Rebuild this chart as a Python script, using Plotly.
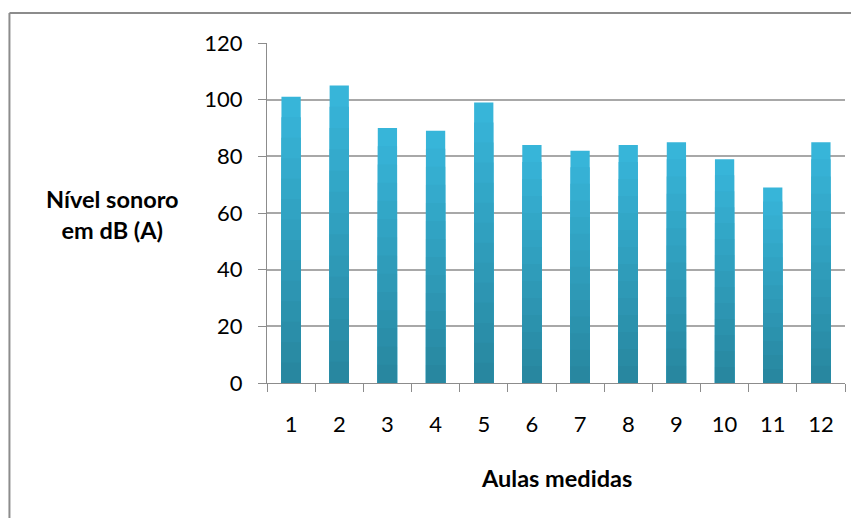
import plotly.graph_objects as go

categories = ["1", "2", "3", "4", "5", "6", "7", "8", "9", "10", "11", "12"]
values = [101, 105, 90, 89, 99, 84, 82, 84, 85, 79, 69, 85]
y_ticks = [0, 20, 40, 60, 80, 100, 120]
y_title = "Nível sonoro<br>em dB (A)"
x_title = "Aulas medidas"

top_rgb = (55, 181, 217)
bottom_rgb = (40, 135, 160)
n_layers = 14

fig = go.Figure()
# Vertical gradient imitation: overlaid copies of each bar, progressively shorter and darker
for k in range(n_layers):
    f = 1 - k / n_layers
    t = k / (n_layers - 1)
    c = tuple(round(top_rgb[i] + (bottom_rgb[i] - top_rgb[i]) * t) for i in range(3))
    fig.add_trace(go.Bar(
        x=categories,
        y=[v * f for v in values],
        marker=dict(color="rgb(%d,%d,%d)" % c, line=dict(width=0)),
        showlegend=False,
        hoverinfo="skip" if k else None,
    ))

fig.update_layout(
    width=851, height=510,
    margin=dict(l=259, r=14, t=35, b=135),
    paper_bgcolor="white", plot_bgcolor="white",
    barmode="overlay", bargap=0.6,
    font=dict(family="Lato, sans-serif", size=22, color="#000000"),
    showlegend=False,
)
fig.update_yaxes(
    range=[0, 120], tickvals=y_ticks,
    showgrid=True, gridcolor="#A8A8A8", gridwidth=1.5,
    showline=True, linecolor="#8C8C8C", linewidth=1,
    ticks="outside", ticklen=8, tickcolor="#8C8C8C",
    ticklabelstandoff=11, zeroline=False,
)
fig.update_xaxes(
    type="category", range=[-0.5, 11.5],
    showline=True, linecolor="#8C8C8C", linewidth=1,
    ticks="outside", ticklen=8, tickcolor="#8C8C8C", tickson="boundaries",
    ticklabelstandoff=22, showgrid=False,
)
fig.add_annotation(text="<b>" + y_title + "</b>", xref="paper", yref="paper",
                   x=-0.2675, y=0.497, xanchor="center", yanchor="middle",
                   showarrow=False, align="center",
                   font=dict(size=23.5))
fig.add_annotation(text="<b>" + x_title + "</b>", xref="paper", yref="paper",
                   x=0.5, y=-0.279, xanchor="center", yanchor="middle",
                   showarrow=False, font=dict(size=23.5))
# outer frame (top and left edges visible in the reference)
fig.add_shape(type="line", xref="paper", yref="paper",
              x0=-0.4456, x1=1.1, y0=1.0882, y1=1.0882,
              line=dict(color="#8C8C8C", width=2))
fig.add_shape(type="line", xref="paper", yref="paper",
              x0=-0.4456, x1=-0.4456, y0=1.0882, y1=-0.5,
              line=dict(color="#8C8C8C", width=2))

fig.write_html("out.html")
